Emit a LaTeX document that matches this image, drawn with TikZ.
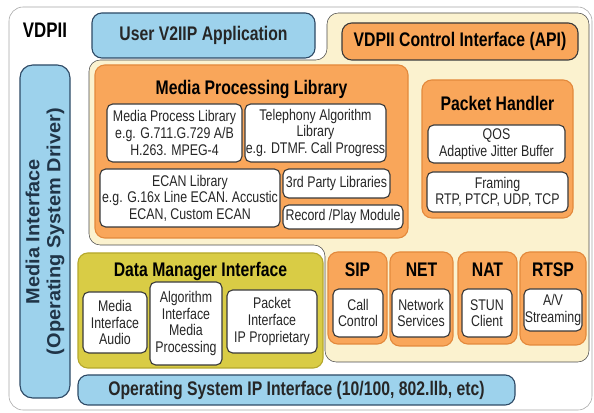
\documentclass[tikz,border=0pt]{standalone}
\usepackage{fontspec}
\setmainfont{Liberation Sans}[FakeStretch=0.8]
\usetikzlibrary{positioning}

\definecolor{beige}{HTML}{FBF2CF}
\definecolor{orng}{HTML}{F9A65A}
\definecolor{orngline}{HTML}{E3893C}
\definecolor{ltblue}{HTML}{9DD2EC}
\definecolor{blueline}{HTML}{2E4A66}
\definecolor{olive}{HTML}{D9CC45}
\definecolor{oliveline}{HTML}{B5A82C}
\definecolor{darkline}{HTML}{3A3A3A}

\begin{document}
\begin{tikzpicture}[x=0.025cm, y=-0.025cm, line join=round]
    \tikzset{sz/.style 2 args = {minimum width=#1*0.025cm, minimum height=#2*0.025cm, inner sep=0pt}}
    \tikzset{outer/.style    = {rectangle, draw=gray!70, fill=white, rounded corners=10pt}}
    \tikzset{bluebox/.style  = {rectangle, draw=blueline, thick, fill=ltblue, rounded corners=7pt, font=\bfseries\fontsize{14}{15}\selectfont, text=black!85}}
    \tikzset{orangebox/.style= {rectangle, draw=orngline, thick, fill=orng, rounded corners=7pt}}
    \tikzset{apibox/.style   = {rectangle, draw=darkline, thick, fill=orng, rounded corners=7pt, font=\bfseries\fontsize{14}{15}\selectfont}}
    \tikzset{olivebox/.style = {rectangle, draw=oliveline, thick, fill=olive, rounded corners=7pt}}
    \tikzset{white/.style    = {rectangle, draw=darkline, thick, fill=white, rounded corners=4pt, align=center, text=black!85, font=\fontsize{11}{11.8}\selectfont}}
    \tikzset{title/.style    = {font=\bfseries\fontsize{14}{15}\selectfont, inner sep=0pt}}

    \useasboundingbox (0,0) rectangle (594,413);

    % outer frame
    \node [outer, sz={583}{403}] (frame) at (300.5,208.5) {};
    \node [title, font=\bfseries\fontsize{15}{16}\selectfont] (vdpii) at (45,30) {VDPII};

    % beige panel behind the right side and the library
    \draw [draw=gray!60!black, fill=beige, rounded corners=8pt]
        (327,13) -- (589,13) -- (589,362) -- (325,362) -- (325,245) -- (89,245) -- (89,60) -- (327,60) -- cycle;

    % top row
    \node [bluebox, sz={223}{45}] (app) at (203.5,35.5) {User V2IIP Application};
    \node [apibox, sz={236}{37}] (api) at (460,41.5) {VDPII Control Interface (API)};

    % side and bottom
    \node [bluebox, sz={50}{333}, rounded corners=9pt] (driver) at (45,231.5) {};
    \node [title, rotate=90, align=center, text=blueline!70!black, font=\addfontfeatures{FakeStretch=1.05}\bfseries\fontsize{13.5}{15}\selectfont] (drivertext) at (driver.center) {Media Interface\\(Operating System Driver)};
    \node [bluebox, sz={437}{30}] (osip) at (296.5,390) {Operating System IP Interface (10/100, 802.llb, etc)};

    % Media processing library
    \node [orangebox, sz={313}{173}] (mpl) at (251.5,151.5) {};
    \node [title, below=11pt of mpl.north] (mpltitle) {Media Processing Library};
    \node [white, sz={135}{58}] (mproc) at (174.5,133) {Media Process Library\\e.g. G.711.G.729 A/B\\H.263. MPEG-4};
    \node [white, sz={141}{58}] (teleph) at (315.5,133) {Telephony Algorithm\\Library\\e.g. DTMF. Call Progress};
    \node [white, sz={180}{58}] (ecan) at (190,198) {ECAN Library\\e.g. G.16x Line ECAN. Accustic\\ECAN, Custom ECAN};
    \node [white, sz={107}{29}] (third) at (336.5,183.5) {3rd Party Libraries};
    \node [white, sz={120}{24}] (record) at (343,217) {Record /Play Module};

    % Packet handler
    \node [orangebox, sz={151}{138}] (ph) at (497.5,149) {};
    \node [title, below=12pt of ph.north] (phtitle) {Packet Handler};
    \node [white, sz={137}{38}] (qos) at (496.5,144) {QOS\\Adaptive Jitter Buffer};
    \node [white, sz={141}{40}] (framing) at (497.5,192) {Framing\\RTP, PTCP, UDP, TCP};

    % Data manager
    \node [olivebox, sz={245}{115}] (dmi) at (200.5,310.5) {};
    \node [title, below=7pt of dmi.north] (dmititle) {Data Manager Interface};
    \node [white, sz={64}{61}] (mia) at (115,322.5) {Media\\Interface\\Audio};
    \node [white, sz={72}{83}] (aimp) at (186,323.5) {Algorithm\\Interface\\Media\\Processing};
    \node [white, sz={90}{63}] (pip) at (272,321.5) {Packet\\Interface\\IP Proprietary};

    % protocol blocks
    \node [orangebox, sz={59}{92}] (sip) at (357.5,298) {};
    \node [title, below=8pt of sip.north] (siptitle) {SIP};
    \node [white, sz={50}{48}] (call) at (358,313) {Call\\Control};
    \node [orangebox, sz={63}{94}] (net) at (421.5,299) {};
    \node [title, below=8pt of net.north] (nettitle) {NET};
    \node [white, sz={58}{48}] (netsrv) at (421,313) {Network\\Services};
    \node [orangebox, sz={59}{92}] (nat) at (487.5,298) {};
    \node [title, below=8pt of nat.north] (nattitle) {NAT};
    \node [white, sz={50}{48}] (stun) at (487,313) {STUN\\Client};
    \node [orangebox, sz={66}{93}] (rtsp) at (553,298.5) {};
    \node [title, below=8pt of rtsp.north] (rtsptitle) {RTSP};
    \node [white, sz={58}{42}] (avs) at (553,310) {A/V\\Streaming};
\end{tikzpicture}
\end{document}
